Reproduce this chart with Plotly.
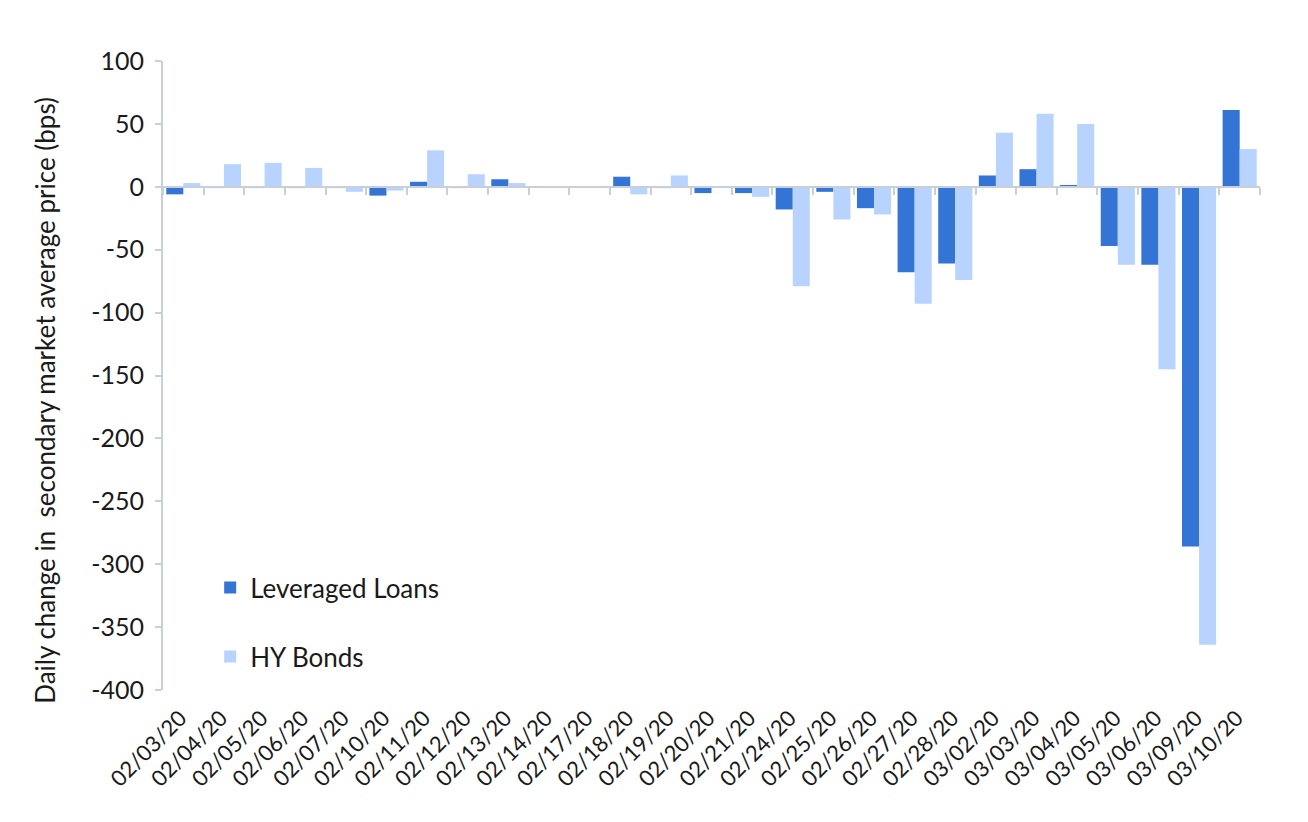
import plotly.graph_objects as go

dates = ["02/03/20", "02/04/20", "02/05/20", "02/06/20", "02/07/20", "02/10/20",
         "02/11/20", "02/12/20", "02/13/20", "02/14/20", "02/17/20", "02/18/20",
         "02/19/20", "02/20/20", "02/21/20", "02/24/20", "02/25/20", "02/26/20",
         "02/27/20", "02/28/20", "03/02/20", "03/03/20", "03/04/20", "03/05/20",
         "03/06/20", "03/09/20", "03/10/20"]

leveraged_loans = [-6, -1, -1, -1, -1, -7, 4, -1, 6, 0, 0, 8,
                   -1, -5, -5, -18, -4, -17, -68, -61, 9, 14, 1, -47,
                   -62, -286, 61]

hy_bonds = [3, 18, 19, 15, -4, -3, 29, 10, 3, 0, 0, -6,
            9, 0, -8, -79, -26, -22, -93, -74, 43, 58, 50, -62,
            -145, -364, 30]

y_ticks = [100, 50, 0, -50, -100, -150, -200, -250, -300, -350, -400]

y_title = "Daily change in\u00a0 secondary market average price (bps)"

FONT = "Lato"
TXT = "#1a1a1a"
AX = "#c8cfd8"

fig = go.Figure()
fig.add_trace(go.Bar(x=dates, y=leveraged_loans, name="Leveraged Loans",
                     marker=dict(color="#3474D4", line=dict(width=0)),
                     legendgroup="a"))
fig.add_trace(go.Bar(x=dates, y=hy_bonds, name="HY Bonds",
                     marker=dict(color="#B8D4FE", line=dict(width=0)),
                     legendgroup="b"))
# helper trace so the zero-level category axis exists
fig.add_trace(go.Scatter(x=dates, y=[0] * len(dates), xaxis="x2", mode="markers",
                         marker=dict(opacity=0), showlegend=False, hoverinfo="skip"))

fig.update_layout(
    width=1300, height=814,
    margin=dict(l=155, r=48, t=53, b=132),
    paper_bgcolor="white", plot_bgcolor="white",
    font=dict(family=FONT, color=TXT, size=24),
    barmode="group", bargap=0.16, bargroupgap=0,
    showlegend=True,
    legend=dict(x=0.043, y=0.2, xanchor="left", yanchor="top",
                font=dict(family=FONT, size=26, color=TXT),
                tracegroupgap=32, bgcolor="rgba(0,0,0,0)"),
    xaxis=dict(type="category", categoryorder="array", categoryarray=dates,
               range=[-0.5, len(dates) - 0.5], automargin=False,
               tickangle=-45, tickfont=dict(family=FONT, size=22, color=TXT),
               ticklabelstandoff=10, ticklabelshift=-3,
               showline=False, showgrid=False, zeroline=False, ticks=""),
    xaxis2=dict(type="category", categoryorder="array", categoryarray=dates,
                range=[-0.5, len(dates) - 0.5], overlaying="x", anchor="free",
                position=0.8, side="bottom", showticklabels=False, automargin=False,
                showline=True, linecolor=AX, linewidth=2,
                ticks="outside", tickson="boundaries", ticklen=7, tickwidth=2,
                tickcolor=AX, showgrid=False, zeroline=False),
    yaxis=dict(range=[-400, 100], tickvals=y_ticks,
               ticktext=[str(v) for v in y_ticks], automargin=False,
               tickfont=dict(family=FONT, size=25, color=TXT),
               showline=True, linecolor=AX, linewidth=2,
               showgrid=False, zeroline=False,
               ticks="outside", ticklen=6, tickwidth=2, tickcolor=AX,
               ticklabelstandoff=6),
    annotations=[dict(text=y_title, textangle=-90, showarrow=False,
                      xref="paper", yref="paper", x=-0.1075, y=0.46,
                      xanchor="center", yanchor="middle",
                      font=dict(family=FONT, size=26, color=TXT))],
)

fig.write_html("out.html")
